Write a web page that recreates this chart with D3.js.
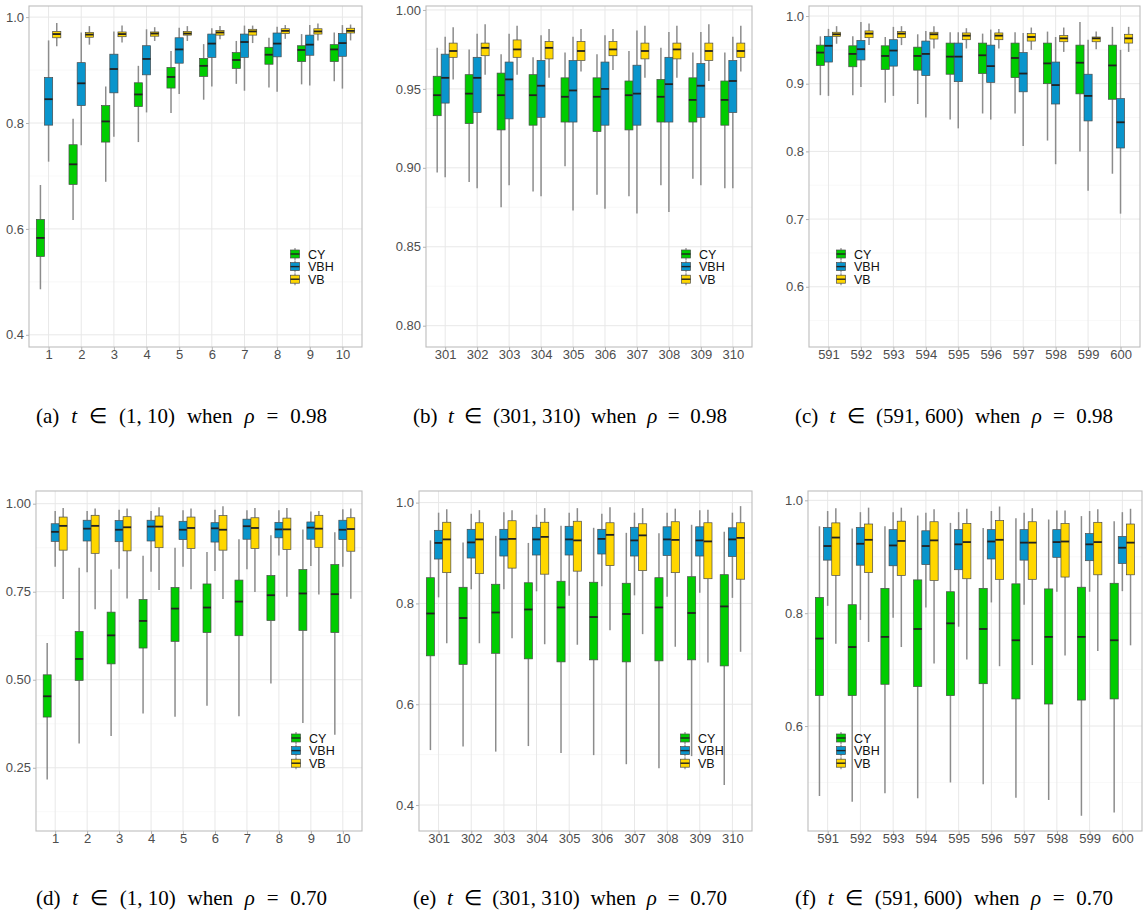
<!DOCTYPE html>
<html>
<head>
<meta charset="utf-8">
<script src="https://cdn.jsdelivr.net/npm/d3@7"></script>
<style>
  body { margin: 0; background: #fff; }
  text { font-family: "Liberation Sans", Arial, sans-serif; }
  .cap { font-family: "Liberation Serif", "Times New Roman", serif; }
</style>
</head>
<body>
<svg id="fig" width="1145" height="917"></svg>
<script>

// each row is one box: [lower whisker, Q1, median, Q3, upper whisker]
series  = ["CY", "VBH", "VB"]
colors  = ["#00cc00", "#0a95cc", "#ffd700"]

t_early = ["1", "2", "3", "4", "5", "6", "7", "8", "9", "10"]
t_mid   = ["301", "302", "303", "304", "305", "306", "307", "308", "309", "310"]
t_late  = ["591", "592", "593", "594", "595", "596", "597", "598", "599", "600"]

ticks_a = [0.4, 0.6, 0.8, 1.0]
ticks_b = [0.80, 0.85, 0.90, 0.95, 1.00]
ticks_c = [0.6, 0.7, 0.8, 0.9, 1.0]
ticks_d = [0.25, 0.50, 0.75, 1.00]
ticks_e = [0.4, 0.6, 0.8, 1.0]
ticks_f = [0.6, 0.8, 1.0]

captions_top    = ["(a)", "(1, 10)", "0.98", "(b)", "(301, 310)", "0.98", "(c)", "(591, 600)", "0.98"]
captions_bottom = ["(d)", "(1, 10)", "0.70", "(e)", "(301, 310)", "0.70", "(f)", "(591, 600)", "0.70"]

// (a) rho = 0.98, t = 1..10
a_cy = [
  [0.486, 0.548, 0.583, 0.618, 0.683], [0.617, 0.684, 0.722, 0.759, 0.808],
  [0.689, 0.764, 0.803, 0.833, 0.869], [0.764, 0.831, 0.854, 0.876, 0.908],
  [0.819, 0.866, 0.887, 0.905, 0.936], [0.844, 0.888, 0.908, 0.922, 0.949],
  [0.874, 0.903, 0.919, 0.933, 0.955], [0.867, 0.911, 0.929, 0.943, 0.961],
  [0.873, 0.916, 0.938, 0.946, 0.968], [0.879, 0.916, 0.939, 0.948, 0.971]]
a_vbh = [
  [0.727, 0.796, 0.845, 0.886, 0.956], [0.758, 0.833, 0.875, 0.914, 0.971],
  [0.774, 0.857, 0.902, 0.930, 0.973], [0.820, 0.891, 0.921, 0.946, 0.977],
  [0.855, 0.913, 0.939, 0.961, 0.980], [0.869, 0.924, 0.950, 0.968, 0.979],
  [0.861, 0.924, 0.953, 0.968, 0.984], [0.859, 0.925, 0.950, 0.970, 0.982],
  [0.871, 0.928, 0.948, 0.966, 0.985], [0.865, 0.926, 0.951, 0.969, 0.985]]
a_vb = [
  [0.945, 0.961, 0.968, 0.973, 0.989], [0.948, 0.962, 0.967, 0.971, 0.983],
  [0.952, 0.963, 0.968, 0.972, 0.984], [0.955, 0.964, 0.969, 0.972, 0.981],
  [0.955, 0.966, 0.969, 0.973, 0.983], [0.958, 0.966, 0.971, 0.975, 0.983],
  [0.951, 0.966, 0.973, 0.977, 0.984], [0.959, 0.969, 0.974, 0.978, 0.985],
  [0.956, 0.968, 0.973, 0.978, 0.988], [0.956, 0.970, 0.974, 0.979, 0.986]]

// (b) rho = 0.98, t = 301..310
b_cy = [
  [0.897, 0.933, 0.946, 0.958, 0.976], [0.891, 0.928, 0.947, 0.959, 0.975],
  [0.875, 0.924, 0.946, 0.960, 0.972], [0.885, 0.927, 0.946, 0.959, 0.970],
  [0.901, 0.929, 0.945, 0.957, 0.973], [0.883, 0.923, 0.945, 0.957, 0.972],
  [0.882, 0.924, 0.946, 0.955, 0.974], [0.889, 0.929, 0.945, 0.956, 0.976],
  [0.893, 0.929, 0.943, 0.957, 0.973], [0.887, 0.927, 0.943, 0.955, 0.973]]
b_vbh = [
  [0.894, 0.941, 0.957, 0.972, 0.983], [0.887, 0.935, 0.957, 0.970, 0.985],
  [0.889, 0.931, 0.956, 0.967, 0.985], [0.882, 0.932, 0.952, 0.968, 0.984],
  [0.873, 0.929, 0.949, 0.968, 0.983], [0.874, 0.927, 0.950, 0.967, 0.984],
  [0.871, 0.927, 0.947, 0.965, 0.987], [0.872, 0.929, 0.953, 0.970, 0.986],
  [0.889, 0.932, 0.952, 0.966, 0.986], [0.887, 0.935, 0.955, 0.968, 0.983]]
b_vb = [
  [0.956, 0.970, 0.974, 0.979, 0.989], [0.959, 0.971, 0.976, 0.979, 0.991],
  [0.959, 0.970, 0.975, 0.981, 0.990], [0.957, 0.969, 0.976, 0.980, 0.988],
  [0.961, 0.968, 0.974, 0.980, 0.988], [0.962, 0.971, 0.975, 0.980, 0.988],
  [0.957, 0.969, 0.974, 0.979, 0.990], [0.957, 0.969, 0.975, 0.979, 0.990],
  [0.955, 0.968, 0.974, 0.979, 0.991], [0.961, 0.970, 0.974, 0.979, 0.990]]

// (c) rho = 0.98, t = 591..600
c_cy = [
  [0.883, 0.927, 0.946, 0.957, 0.970], [0.883, 0.925, 0.944, 0.956, 0.970],
  [0.872, 0.921, 0.941, 0.956, 0.969], [0.870, 0.920, 0.941, 0.954, 0.973],
  [0.847, 0.914, 0.940, 0.960, 0.976], [0.856, 0.915, 0.942, 0.960, 0.974],
  [0.856, 0.909, 0.938, 0.960, 0.976], [0.816, 0.900, 0.930, 0.960, 0.977],
  [0.800, 0.885, 0.931, 0.957, 0.991], [0.767, 0.877, 0.927, 0.957, 0.984]]
c_vbh = [
  [0.882, 0.932, 0.956, 0.970, 0.981], [0.895, 0.935, 0.951, 0.964, 0.991],
  [0.882, 0.926, 0.949, 0.965, 0.984], [0.850, 0.912, 0.944, 0.963, 0.978],
  [0.834, 0.903, 0.940, 0.960, 0.976], [0.847, 0.902, 0.926, 0.957, 0.980],
  [0.808, 0.888, 0.915, 0.946, 0.975], [0.781, 0.870, 0.898, 0.932, 0.969],
  [0.742, 0.845, 0.882, 0.914, 0.965], [0.708, 0.805, 0.843, 0.878, 0.950]]
c_vb = [
  [0.959, 0.970, 0.973, 0.976, 0.985], [0.957, 0.968, 0.974, 0.978, 0.989],
  [0.957, 0.968, 0.974, 0.977, 0.985], [0.952, 0.966, 0.973, 0.976, 0.985],
  [0.952, 0.965, 0.971, 0.975, 0.982], [0.952, 0.965, 0.971, 0.975, 0.981],
  [0.950, 0.963, 0.969, 0.974, 0.983], [0.947, 0.962, 0.967, 0.971, 0.983],
  [0.951, 0.962, 0.967, 0.969, 0.977], [0.947, 0.960, 0.967, 0.973, 0.984]]

// (d) rho = 0.70, t = 1..10
d_cy = [
  [0.217, 0.394, 0.453, 0.514, 0.604], [0.319, 0.498, 0.559, 0.637, 0.818],
  [0.340, 0.545, 0.626, 0.692, 0.813], [0.404, 0.590, 0.667, 0.728, 0.852],
  [0.395, 0.609, 0.702, 0.762, 0.875], [0.426, 0.634, 0.705, 0.772, 0.863],
  [0.396, 0.625, 0.722, 0.783, 0.899], [0.489, 0.668, 0.740, 0.796, 0.910],
  [0.377, 0.640, 0.745, 0.813, 0.927], [0.344, 0.634, 0.743, 0.827, 0.919]]
d_vbh = [
  [0.821, 0.893, 0.920, 0.943, 0.979], [0.805, 0.894, 0.929, 0.953, 0.979],
  [0.815, 0.892, 0.926, 0.952, 0.983], [0.807, 0.894, 0.935, 0.953, 0.979],
  [0.821, 0.898, 0.926, 0.950, 0.981], [0.809, 0.891, 0.930, 0.946, 0.983],
  [0.814, 0.899, 0.936, 0.956, 0.981], [0.853, 0.903, 0.927, 0.947, 0.981],
  [0.823, 0.899, 0.932, 0.948, 0.978], [0.821, 0.898, 0.926, 0.953, 0.984]]
d_vb = [
  [0.729, 0.868, 0.937, 0.962, 0.988], [0.700, 0.859, 0.937, 0.967, 0.986],
  [0.731, 0.866, 0.933, 0.963, 0.986], [0.755, 0.875, 0.935, 0.965, 0.990],
  [0.757, 0.873, 0.931, 0.962, 0.986], [0.729, 0.868, 0.926, 0.966, 0.993],
  [0.749, 0.873, 0.931, 0.960, 0.988], [0.736, 0.870, 0.927, 0.959, 0.988],
  [0.742, 0.876, 0.929, 0.967, 0.979], [0.730, 0.865, 0.928, 0.960, 0.986]]

// (e) rho = 0.70, t = 301..310
e_cy = [
  [0.509, 0.696, 0.780, 0.851, 0.925], [0.516, 0.679, 0.771, 0.832, 0.921],
  [0.506, 0.701, 0.782, 0.838, 0.934], [0.517, 0.690, 0.788, 0.841, 0.920],
  [0.503, 0.684, 0.792, 0.844, 0.954], [0.499, 0.688, 0.773, 0.842, 0.950],
  [0.481, 0.684, 0.779, 0.840, 0.940], [0.473, 0.686, 0.792, 0.851, 0.939],
  [0.497, 0.688, 0.781, 0.853, 0.956], [0.440, 0.676, 0.794, 0.857, 0.942]]
e_vbh = [
  [0.812, 0.888, 0.920, 0.945, 0.980], [0.828, 0.890, 0.921, 0.947, 0.978],
  [0.828, 0.894, 0.927, 0.947, 0.981], [0.824, 0.896, 0.927, 0.951, 0.976],
  [0.815, 0.896, 0.927, 0.953, 0.980], [0.834, 0.898, 0.928, 0.947, 0.978],
  [0.816, 0.894, 0.925, 0.951, 0.980], [0.813, 0.895, 0.927, 0.952, 0.980],
  [0.821, 0.894, 0.925, 0.952, 0.985], [0.811, 0.893, 0.927, 0.950, 0.980]]
e_vb = [
  [0.721, 0.861, 0.927, 0.961, 0.987], [0.721, 0.859, 0.927, 0.960, 0.985],
  [0.731, 0.870, 0.928, 0.964, 0.985], [0.719, 0.858, 0.932, 0.961, 0.989],
  [0.718, 0.864, 0.925, 0.963, 0.989], [0.747, 0.875, 0.936, 0.960, 0.991],
  [0.739, 0.865, 0.935, 0.958, 0.989], [0.714, 0.861, 0.926, 0.962, 0.988],
  [0.683, 0.849, 0.923, 0.960, 0.986], [0.704, 0.848, 0.930, 0.960, 0.993]]

// (f) rho = 0.70, t = 591..600
f_cy = [
  [0.476, 0.654, 0.755, 0.828, 0.954], [0.466, 0.654, 0.740, 0.815, 0.950],
  [0.481, 0.674, 0.758, 0.844, 0.954], [0.472, 0.670, 0.772, 0.859, 0.973],
  [0.500, 0.654, 0.782, 0.838, 0.960], [0.497, 0.675, 0.772, 0.844, 0.951],
  [0.473, 0.648, 0.752, 0.852, 0.968], [0.469, 0.639, 0.758, 0.843, 0.966],
  [0.441, 0.646, 0.758, 0.846, 0.972], [0.447, 0.648, 0.752, 0.853, 0.963]]
f_vbh = [
  [0.813, 0.894, 0.919, 0.952, 0.981], [0.788, 0.885, 0.923, 0.952, 0.979],
  [0.792, 0.884, 0.920, 0.948, 0.979], [0.810, 0.886, 0.919, 0.946, 0.978],
  [0.776, 0.877, 0.922, 0.948, 0.979], [0.819, 0.896, 0.927, 0.948, 0.981],
  [0.815, 0.894, 0.925, 0.948, 0.978], [0.838, 0.899, 0.926, 0.948, 0.982],
  [0.838, 0.893, 0.922, 0.941, 0.981], [0.839, 0.888, 0.916, 0.936, 0.979]]
f_vb = [
  [0.746, 0.867, 0.934, 0.960, 0.986], [0.749, 0.872, 0.930, 0.958, 0.987],
  [0.740, 0.867, 0.928, 0.963, 0.987], [0.711, 0.858, 0.929, 0.962, 0.984],
  [0.718, 0.861, 0.926, 0.959, 0.985], [0.706, 0.860, 0.930, 0.964, 0.989],
  [0.708, 0.860, 0.925, 0.962, 0.986], [0.725, 0.864, 0.927, 0.959, 0.982],
  [0.733, 0.868, 0.926, 0.961, 0.984], [0.743, 0.868, 0.925, 0.958, 0.985]]


svg = d3.select("#fig")

// layout of the six panels (pixel boxes, y extents, legend spot)
panels = [
  {cats: t_early, boxes: [a_cy, a_vbh, a_vb], ticks: ticks_a, fmt: ".1f",
   left: 29,  right: 362,  top: 6,   bottom: 347, ylo: 0.377,  yhi: 1.021,  legx: 290, legy: 254},
  {cats: t_mid,   boxes: [b_cy, b_vbh, b_vb], ticks: ticks_b, fmt: ".2f",
   left: 426, right: 752,  top: 6,   bottom: 347, ylo: 0.7865, yhi: 1.0025, legx: 681, legy: 254},
  {cats: t_late,  boxes: [c_cy, c_vbh, c_vb], ticks: ticks_c, fmt: ".1f",
   left: 809, right: 1140, top: 6,   bottom: 347, ylo: 0.511,  yhi: 1.0148, legx: 836, legy: 254},
  {cats: t_early, boxes: [d_cy, d_vbh, d_vb], ticks: ticks_d, fmt: ".2f",
   left: 36,  right: 362,  top: 491, bottom: 831, ylo: 0.0704, yhi: 1.036,  legx: 291, legy: 738},
  {cats: t_mid,   boxes: [e_cy, e_vbh, e_vb], ticks: ticks_e, fmt: ".1f",
   left: 419, right: 752,  top: 491, bottom: 831, ylo: 0.3485, yhi: 1.023,  legx: 680, legy: 738},
  {cats: t_late,  boxes: [f_cy, f_vbh, f_vb], ticks: ticks_f, fmt: ".1f",
   left: 808, right: 1142, top: 491, bottom: 831, ylo: 0.414,  yhi: 1.0165, legx: 836, legy: 738}
]

function draw_panel(p) {
  var g = svg.append("g")
  var x = d3.scalePoint().domain(p.cats).range([p.left, p.right]).padding(0.6)
  var y = d3.scaleLinear().domain([p.ylo, p.yhi]).range([p.bottom, p.top])
  var step = x.step()
  var w = step * 0.25

  // minor grid halfway between major ticks
  var gap = p.ticks[1] - p.ticks[0]
  var minor = []
  for (var v = p.ticks[0] - gap / 2; v < p.yhi; v += gap) {
    if (v > p.ylo) minor.push(v)
  }
  g.selectAll(".minor").data(minor).enter().append("line")
    .attr("x1", p.left).attr("x2", p.right)
    .attr("y1", function(d) { return y(d) }).attr("y2", function(d) { return y(d) })
    .attr("stroke", "#f3f3f3").attr("stroke-width", 0.6)

  g.selectAll(".major").data(p.ticks).enter().append("line")
    .attr("x1", p.left).attr("x2", p.right)
    .attr("y1", function(d) { return y(d) }).attr("y2", function(d) { return y(d) })
    .attr("stroke", "#e8e8e8").attr("stroke-width", 1)

  g.selectAll(".vgrid").data(p.cats).enter().append("line")
    .attr("x1", function(d) { return x(d) }).attr("x2", function(d) { return x(d) })
    .attr("y1", p.top).attr("y2", p.bottom)
    .attr("stroke", "#e8e8e8").attr("stroke-width", 1)

  // the boxes, one dodge slot per series
  p.boxes.forEach(function(rows, s) {
    var off = (s - 1) * w
    var bx = g.selectAll(".b" + s).data(rows).enter().append("g")

    bx.append("line")
      .attr("x1", function(d, i) { return x(p.cats[i]) + off })
      .attr("x2", function(d, i) { return x(p.cats[i]) + off })
      .attr("y1", function(d) { return y(d[4]) }).attr("y2", function(d) { return y(d[3]) })
      .attr("stroke", "#8c8c8c").attr("stroke-width", 1.5)
    bx.append("line")
      .attr("x1", function(d, i) { return x(p.cats[i]) + off })
      .attr("x2", function(d, i) { return x(p.cats[i]) + off })
      .attr("y1", function(d) { return y(d[1]) }).attr("y2", function(d) { return y(d[0]) })
      .attr("stroke", "#8c8c8c").attr("stroke-width", 1.5)

    bx.append("rect")
      .attr("x", function(d, i) { return x(p.cats[i]) + off - w / 2 })
      .attr("width", w)
      .attr("y", function(d) { return y(d[3]) })
      .attr("height", function(d) { return y(d[1]) - y(d[3]) })
      .attr("fill", colors[s]).attr("stroke", "#4a4a4a").attr("stroke-width", 0.7)

    bx.append("line")
      .attr("x1", function(d, i) { return x(p.cats[i]) + off - w / 2 })
      .attr("x2", function(d, i) { return x(p.cats[i]) + off + w / 2 })
      .attr("y1", function(d) { return y(d[2]) }).attr("y2", function(d) { return y(d[2]) })
      .attr("stroke", "#222").attr("stroke-width", 1.8)
  })

  // panel border
  g.append("rect")
    .attr("x", p.left).attr("y", p.top)
    .attr("width", p.right - p.left).attr("height", p.bottom - p.top)
    .attr("fill", "none").attr("stroke", "#bdbdbd").attr("stroke-width", 1.1)

  var ya = g.append("g").attr("transform", "translate(" + p.left + ",0)")
    .call(d3.axisLeft(y).tickValues(p.ticks).tickFormat(d3.format(p.fmt)).tickSize(3).tickPadding(2))
  var xa = g.append("g").attr("transform", "translate(0," + p.bottom + ")")
    .call(d3.axisBottom(x).tickSize(3).tickPadding(0))
  ;[ya, xa].forEach(function(a) {
    a.select(".domain").remove()
    a.selectAll(".tick line").attr("stroke", "#b3b3b3")
    a.selectAll("text").attr("fill", "#4d4d4d").style("font-size", "13px")
      .style("font-family", "'Liberation Sans', Arial, sans-serif")
  })

  // legend inside the panel
  var lg = g.append("g").attr("transform", "translate(" + p.legx + "," + p.legy + ")")
  series.forEach(function(name, s) {
    var row = lg.append("g").attr("transform", "translate(0," + (s * 12.6) + ")")
    row.append("line").attr("x1", 5).attr("x2", 5).attr("y1", -6).attr("y2", 6)
      .attr("stroke", "#8c8c8c").attr("stroke-width", 1.2)
    row.append("rect").attr("x", 0.5).attr("y", -4).attr("width", 9).attr("height", 8)
      .attr("fill", colors[s]).attr("stroke", "#4a4a4a").attr("stroke-width", 0.7)
    row.append("line").attr("x1", 0.5).attr("x2", 9.5).attr("y1", 0).attr("y2", 0)
      .attr("stroke", "#222").attr("stroke-width", 1.4)
    row.append("text").attr("x", 18).attr("y", 4.6).text(name)
      .attr("fill", "#111").style("font-size", "12.5px")
  })
}

panels.forEach(draw_panel)

// sub-figure captions, LaTeX style: words laid out, then the gaps widened to fit
function caption(x0, cy, width, parts) {
  var words = [[parts[0], 0], ["t", 1], ["\u2208", 0], [parts[1], 0], ["when", 0],
               ["\u03c1", 1], ["=", 0], [parts[2], 0]]
  var t = svg.append("text").attr("class", "cap").attr("x", x0).attr("y", cy)
    .style("font-size", "21px").attr("fill", "#000")
  var spans = words.map(function(wd, i) {
    return t.append("tspan").text((i ? " " : "") + wd[0])
      .style("font-style", wd[1] ? "italic" : "normal")
  })
  var extra = (width - t.node().getComputedTextLength()) / (words.length - 1)
  spans.forEach(function(s, i) { if (i) s.attr("dx", extra) })
}

capx = [36, 413, 795]
capw = [291, 314, 318]
for (var k = 0; k < 3; k++) {
  caption(capx[k], 423, capw[k], captions_top.slice(k * 3, k * 3 + 3))
  caption(capx[k], 905, capw[k], captions_bottom.slice(k * 3, k * 3 + 3))
}

</script>
</body>
</html>
